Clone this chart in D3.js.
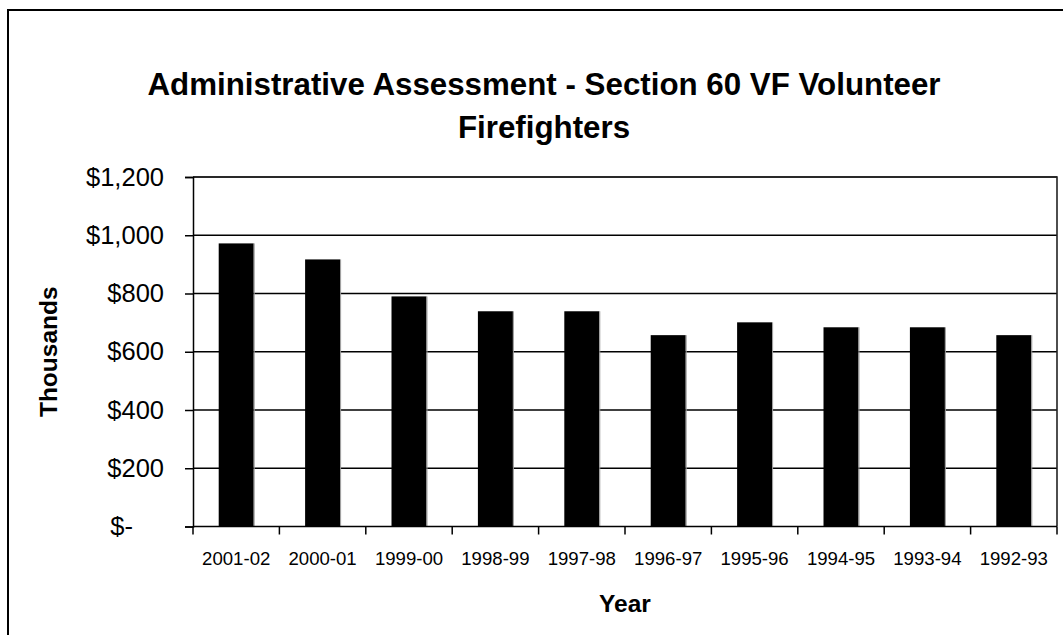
<!DOCTYPE html>
<html>
<head>
<meta charset="utf-8">
<script src="https://cdn.jsdelivr.net/npm/d3@7"></script>
<style>
  html, body { margin: 0; padding: 0; background: #fff; }
  svg { display: block; font-family: Arial, "Liberation Sans", sans-serif; }
</style>
</head>
<body>
<svg id="chart" width="1063" height="635"></svg>
<script>
const categories = ["2001-02","2000-01","1999-00","1998-99","1997-98","1996-97","1995-96","1994-95","1993-94","1992-93"];
const values = [972, 917, 790, 739, 739, 657, 701, 684, 684, 657];
const yTicks = [0, 200, 400, 600, 800, 1000, 1200];
const titleLines = ["Administrative Assessment - Section 60 VF Volunteer", "Firefighters"];
const xTitle = "Year";
const yTitle = "Thousands";

const svg = d3.select("#chart");
const W = 1063, H = 635;
const plot = { left: 193, right: 1057, top: 177, bottom: 526.5 };

// outer border
svg.append("rect")
  .attr("x", 8).attr("y", 10)
  .attr("width", W + 10).attr("height", H + 10)
  .attr("fill", "#fff").attr("stroke", "#000").attr("stroke-width", 2);

const x = d3.scaleBand()
  .domain(categories)
  .range([plot.left, plot.right])
  .paddingInner(0.595)
  .paddingOuter(0.2975);

const y = d3.scaleLinear()
  .domain([0, 1200])
  .range([plot.bottom, plot.top]);

// gridlines
svg.append("g")
  .selectAll("line")
  .data(yTicks.filter(d => d > 0))
  .join("line")
  .attr("x1", plot.left).attr("x2", plot.right)
  .attr("y1", d => y(d)).attr("y2", d => y(d))
  .attr("stroke", "#000").attr("stroke-width", 1.3);

// plot area border (top & right)
svg.append("path")
  .attr("d", `M${plot.left},${y(1200)}H${plot.right}V${plot.bottom}`)
  .attr("fill", "none").attr("stroke", "#222").attr("stroke-width", 1.6);

// bars
svg.append("g")
  .selectAll("rect")
  .data(values)
  .join("rect")
  .attr("x", (d, i) => x(categories[i]))
  .attr("width", x.bandwidth())
  .attr("y", d => y(d))
  .attr("height", d => y(0) - y(d))
  .attr("fill", "#000");
svg.append("g")
  .selectAll("line")
  .data(values)
  .join("line")
  .attr("x1", (d, i) => x(categories[i]) + x.bandwidth() + 0.5)
  .attr("x2", (d, i) => x(categories[i]) + x.bandwidth() + 0.5)
  .attr("y1", d => y(d))
  .attr("y2", y(0))
  .attr("stroke", "#999").attr("stroke-width", 1);

// y axis
const yAxis = d3.axisLeft(y)
  .tickValues(yTicks)
  .tickSize(8)
  .tickPadding(21)
  .tickFormat(d => d === 0 ? "$-" : "$" + d3.format(",")(d));
const gy = svg.append("g")
  .attr("transform", `translate(${plot.left},0)`)
  .call(yAxis);
gy.select(".domain").attr("stroke", "#000").attr("stroke-width", 1.5);
gy.selectAll(".tick line").attr("stroke", "#000").attr("stroke-width", 1.5);
gy.selectAll(".tick text")
  .attr("font-size", 25.5)
  .attr("fill", "#000")
  .attr("font-family", "Arial, 'Liberation Sans', sans-serif");
gy.selectAll(".tick text").filter(d => d === 0).attr("x", -60);

// x axis labels
const xAxis = d3.axisBottom(x).tickSize(0).tickPadding(25);
const gx = svg.append("g")
  .attr("transform", `translate(0,${plot.bottom})`)
  .call(xAxis);
gx.select(".domain").remove();
gx.selectAll(".tick text")
  .attr("font-size", 18.6)
  .attr("fill", "#000")
  .attr("font-family", "Arial, 'Liberation Sans', sans-serif");

// baseline and ticks at band boundaries
svg.append("line")
  .attr("x1", plot.left).attr("x2", plot.right)
  .attr("y1", y(0)).attr("y2", y(0))
  .attr("stroke", "#000").attr("stroke-width", 1.5);
svg.append("g")
  .selectAll("line")
  .data(d3.range(categories.length + 1))
  .join("line")
  .attr("x1", i => x.range()[0] + i * x.step())
  .attr("x2", i => x.range()[0] + i * x.step())
  .attr("y1", y(0)).attr("y2", y(0) + 8)
  .attr("stroke", "#000").attr("stroke-width", 1.5);

// title
svg.append("g")
  .selectAll("text")
  .data(titleLines)
  .join("text")
  .attr("x", 544)
  .attr("y", (d, i) => 95 + i * 43)
  .attr("text-anchor", "middle")
  .attr("font-size", 31.3)
  .attr("font-weight", "bold")
  .attr("fill", "#000")
  .text(d => d);

// axis titles
svg.append("text")
  .attr("x", (plot.left + plot.right) / 2)
  .attr("y", 612)
  .attr("text-anchor", "middle")
  .attr("font-size", 24.5)
  .attr("font-weight", "bold")
  .text(xTitle);

svg.append("text")
  .attr("transform", `translate(57,${(plot.top + plot.bottom) / 2}) rotate(-90)`)
  .attr("text-anchor", "middle")
  .attr("font-size", 24.5)
  .attr("font-weight", "bold")
  .text(yTitle);
</script>
</body>
</html>
